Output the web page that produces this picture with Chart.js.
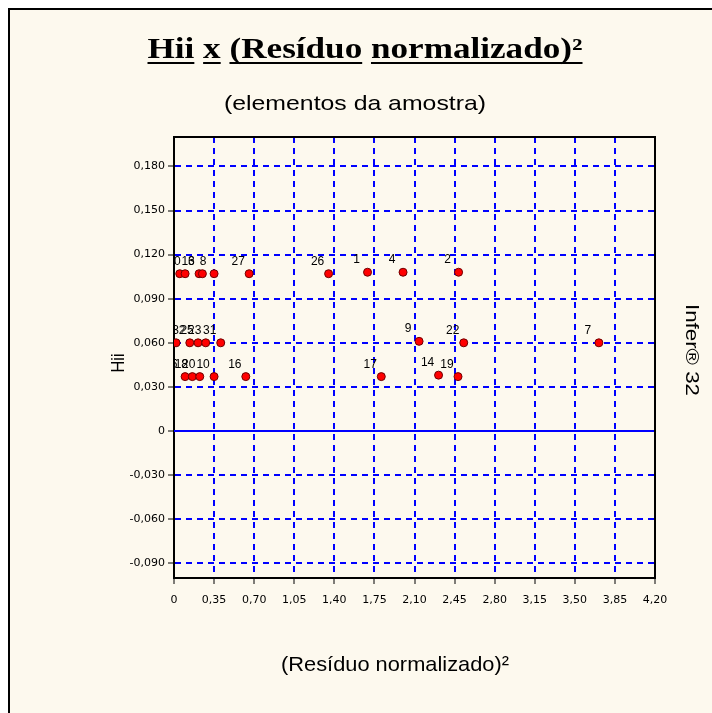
<!DOCTYPE html>
<html>
<head>
<meta charset="utf-8">
<script src="https://cdn.jsdelivr.net/npm/chart.js@4.4.0/dist/chart.umd.min.js"></script>
<style>
  html, body { margin: 0; padding: 0; background: #fff; overflow: hidden; }
  canvas { display: block; }
</style>
</head>
<body>
<canvas id="grafico" width="712" height="713" style="width:712px;height:713px"></canvas>
<script>
// elementos da amostra
const elementos = ['3','30','13','6','8','27','26','1','4','2',
                   '12','32','25','23','31','9','22','7',
                   '5','18','20','10','16','17','14','19'];
// (residuo normalizado)^2
const residuo2 = [0.05,0.097,0.219,0.248,0.35,0.656,1.35,1.69,2.0,2.485,
                  0.018,0.138,0.21,0.277,0.408,2.14,2.53,3.71,
                  0.097,0.16,0.225,0.35,0.627,1.81,2.31,2.48];
// Hii
const hii = [0.107,0.107,0.107,0.107,0.107,0.107,0.107,0.108,0.108,0.108,
             0.060,0.060,0.060,0.060,0.060,0.061,0.060,0.060,
             0.037,0.037,0.037,0.037,0.037,0.037,0.038,0.037];

const xTicks = [0,0.35,0.70,1.05,1.40,1.75,2.10,2.45,2.80,3.15,3.50,3.85,4.20];
const yTicks = [-0.09,-0.06,-0.03,0,0.03,0.06,0.09,0.12,0.15,0.18];

const CREME = '#fdf9ee';
const AZUL = '#0000ff';

function virgula(v, casas) {
  if (Math.abs(v) < 1e-9) return '0';
  return v.toFixed(casas).replace('.', ',');
}

// texto ajustado a uma largura (a fonte bitmap do original é diferente)
function textoLargura(ctx, txt, x, y, fonte, largura) {
  ctx.save();
  ctx.font = fonte;
  const w = ctx.measureText(txt).width;
  const sx = largura ? largura / w : 1;
  ctx.translate(x, y);
  ctx.scale(sx, 1);
  ctx.textAlign = 'center';
  ctx.fillText(txt, 0, 0);
  ctx.restore();
}

const fundo = {
  id: 'fundo',
  beforeDraw(chart) {
    const c = chart.ctx;
    c.save();
    c.fillStyle = '#fff';
    c.fillRect(0, 0, chart.width, chart.height);
    c.fillStyle = CREME;
    c.fillRect(9, 9, chart.width, chart.height);
    c.fillStyle = '#000';
    c.fillRect(8, 8, chart.width, 2);
    c.fillRect(8, 8, 2, chart.height);
    c.restore();
  }
};

const linhaZero = {
  id: 'linhaZero',
  beforeDatasetsDraw(chart) {
    const {ctx, chartArea: a, scales: {y}} = chart;
    const py = Math.round(y.getPixelForValue(0));
    ctx.save();
    ctx.strokeStyle = AZUL;
    ctx.lineWidth = 2;
    ctx.beginPath();
    ctx.moveTo(a.left, py);
    ctx.lineTo(a.right, py);
    ctx.stroke();
    // moldura superior e direita
    ctx.strokeStyle = '#000';
    ctx.lineWidth = 2;
    ctx.beginPath();
    ctx.moveTo(a.left, a.top);
    ctx.lineTo(a.right, a.top);
    ctx.lineTo(a.right, a.bottom);
    ctx.stroke();
    ctx.restore();
  }
};

const rotulos = {
  id: 'rotulos',
  afterDatasetsDraw(chart) {
    const {ctx, chartArea: a} = chart;
    const pts = chart.getDatasetMeta(0).data;
    ctx.save();
    ctx.beginPath();
    ctx.rect(a.left + 1, a.top, a.right - a.left, a.bottom - a.top);
    ctx.clip();
    ctx.font = '12px "Liberation Sans"';
    ctx.fillStyle = '#000';
    ctx.textAlign = 'center';
    ctx.textBaseline = 'alphabetic';
    pts.forEach((p, i) => {
      ctx.fillText(elementos[i], p.x - 11, p.y - 9);
    });
    ctx.restore();
  }
};

const textos = {
  id: 'textos',
  afterDraw(chart) {
    const c = chart.ctx;
    c.save();
    c.fillStyle = '#000';
    // titulo sublinhado palavra a palavra
    const palavras = ['Hii', 'x', '(Resíduo', 'normalizado)²'];
    c.font = 'bold 29px "Liberation Serif"';
    const esp = c.measureText(' ').width;
    const larg = palavras.map(p => c.measureText(p).width);
    const total = larg.reduce((s, w) => s + w, 0) + esp * (palavras.length - 1);
    const alvo = 435, sx = alvo / total;
    let x = 365 - alvo / 2;
    c.textAlign = 'left';
    palavras.forEach((p, i) => {
      c.save();
      c.translate(x, 58);
      c.scale(sx, 1);
      c.fillText(p, 0, 0);
      c.restore();
      c.fillRect(x, 62, larg[i] * sx, 2);
      x += (larg[i] + esp) * sx;
    });

    textoLargura(c, '(elementos da amostra)', 355, 110, '21px "Liberation Sans"', 262);
    textoLargura(c, '(Resíduo normalizado)²', 395, 671, '21px "Liberation Sans"', 228);

    c.save();
    c.translate(124, 363);
    c.rotate(-Math.PI / 2);
    textoLargura(c, 'Hii', 0, 0, '19px "Liberation Sans"', 19);
    c.restore();

    c.save();
    c.translate(686, 350);
    c.rotate(Math.PI / 2);
    textoLargura(c, 'Infer® 32', 0, 0, '18px "Liberation Sans"', 92);
    c.restore();
    c.restore();
  }
};

new Chart(document.getElementById('grafico'), {
  type: 'scatter',
  data: {
    datasets: [{
      data: residuo2.map((v, i) => ({x: v, y: hii[i]})),
      backgroundColor: '#ff0000',
      borderColor: '#700000',
      borderWidth: 1,
      pointRadius: 4,
      pointHoverRadius: 4
    }]
  },
  options: {
    responsive: false,
    animation: false,
    devicePixelRatio: 1,
    events: [],
    layout: { padding: { left: 0, top: 137, right: 57, bottom: 95 } },
    plugins: { legend: { display: false }, tooltip: { enabled: false } },
    scales: {
      x: {
        type: 'linear',
        min: 0, max: 4.2,
        afterBuildTicks: s => { s.ticks = xTicks.map(v => ({value: v})); },
        afterFit: s => { s.height = 40; },
        ticks: {
          autoSkip: false, maxRotation: 0, padding: 10,
          color: '#000', font: { family: 'DejaVu Sans', size: 11 },
          callback: v => virgula(v, 2)
        },
        grid: { color: AZUL, lineWidth: 2, tickColor: '#000', tickLength: 6, tickWidth: 1 },
        border: { color: '#000', width: 2, dash: [6, 5] }
      },
      y: {
        type: 'linear',
        min: -0.1, max: 0.2,
        afterBuildTicks: s => { s.ticks = yTicks.map(v => ({value: v})); },
        afterFit: s => { s.width = 174; },
        ticks: {
          padding: 3,
          color: '#000', font: { family: 'DejaVu Sans', size: 11 },
          callback: v => virgula(v, 3)
        },
        grid: {
          color: c => (c.tick && Math.abs(c.tick.value) < 1e-9) ? 'rgba(0,0,0,0)' : AZUL,
          lineWidth: 2, tickColor: '#000', tickLength: 6, tickWidth: 1
        },
        border: { color: '#000', width: 2, dash: [6, 5] }
      }
    }
  },
  plugins: [fundo, linhaZero, rotulos, textos]
});
</script>
</body>
</html>
